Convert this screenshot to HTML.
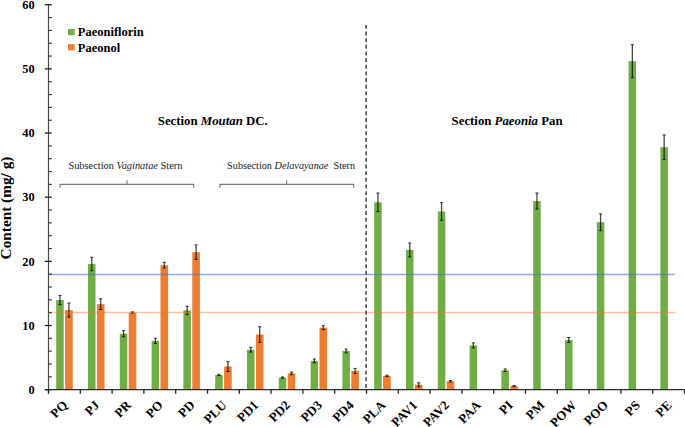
<!DOCTYPE html>
<html><head><meta charset="utf-8"><style>
html,body{margin:0;padding:0;background:#fff;}
body{width:685px;height:427px;overflow:hidden;}
svg{display:block;}
text{font-family:"Liberation Serif",serif;fill:#000;}
.b{font-weight:bold;}
.r{fill:#1c1c1c;}
</style></head><body>
<svg width="685" height="427" viewBox="0 0 685 427">
<rect width="685" height="427" fill="#fff"/>
<rect x="56.20" y="300.03" width="7.50" height="89.62" fill="#70AD47"/>
<rect x="65.10" y="310.10" width="7.60" height="79.55" fill="#ED7D31"/>
<rect x="88.00" y="264.04" width="7.50" height="125.61" fill="#70AD47"/>
<rect x="96.90" y="304.14" width="7.60" height="85.51" fill="#ED7D31"/>
<rect x="119.80" y="333.71" width="7.50" height="55.94" fill="#70AD47"/>
<rect x="128.70" y="312.54" width="7.60" height="77.11" fill="#ED7D31"/>
<rect x="151.60" y="340.90" width="7.50" height="48.75" fill="#70AD47"/>
<rect x="160.50" y="265.20" width="7.60" height="124.45" fill="#ED7D31"/>
<rect x="183.40" y="310.49" width="7.50" height="79.16" fill="#70AD47"/>
<rect x="192.30" y="252.18" width="7.60" height="137.47" fill="#ED7D31"/>
<rect x="215.20" y="375.02" width="7.50" height="14.63" fill="#70AD47"/>
<rect x="224.10" y="366.49" width="7.60" height="23.16" fill="#ED7D31"/>
<rect x="247.00" y="349.75" width="7.50" height="39.90" fill="#70AD47"/>
<rect x="255.90" y="334.55" width="7.60" height="55.10" fill="#ED7D31"/>
<rect x="278.80" y="377.59" width="7.50" height="12.06" fill="#70AD47"/>
<rect x="287.70" y="373.36" width="7.60" height="16.29" fill="#ED7D31"/>
<rect x="310.60" y="360.91" width="7.50" height="28.74" fill="#70AD47"/>
<rect x="319.50" y="327.68" width="7.60" height="61.97" fill="#ED7D31"/>
<rect x="342.40" y="350.90" width="7.50" height="38.75" fill="#70AD47"/>
<rect x="351.30" y="370.98" width="7.60" height="18.67" fill="#ED7D31"/>
<rect x="374.20" y="202.33" width="7.50" height="187.32" fill="#70AD47"/>
<rect x="383.10" y="375.86" width="7.60" height="13.79" fill="#ED7D31"/>
<rect x="406.00" y="249.93" width="7.50" height="139.72" fill="#70AD47"/>
<rect x="414.90" y="384.71" width="7.60" height="4.94" fill="#ED7D31"/>
<rect x="437.80" y="211.51" width="7.50" height="178.14" fill="#70AD47"/>
<rect x="446.70" y="381.31" width="7.60" height="8.34" fill="#ED7D31"/>
<rect x="469.60" y="345.39" width="7.50" height="44.26" fill="#70AD47"/>
<rect x="501.40" y="370.21" width="7.50" height="19.44" fill="#70AD47"/>
<rect x="510.30" y="386.12" width="7.60" height="3.53" fill="#ED7D31"/>
<rect x="533.20" y="201.05" width="7.50" height="188.60" fill="#70AD47"/>
<rect x="565.00" y="340.00" width="7.50" height="49.65" fill="#70AD47"/>
<rect x="596.80" y="222.22" width="7.50" height="167.43" fill="#70AD47"/>
<rect x="628.60" y="61.20" width="7.50" height="328.45" fill="#70AD47"/>
<rect x="660.40" y="147.16" width="7.50" height="242.49" fill="#70AD47"/>
<path d="M59.95 295.41V304.65" stroke="#000" stroke-width="1.3" stroke-opacity="0.72" fill="none"/>
<path d="M58.35 295.41h3.2M58.35 304.65h3.2" stroke="#000" stroke-width="0.9" stroke-opacity="0.85" fill="none"/>
<path d="M68.90 303.05V317.16" stroke="#000" stroke-width="1.3" stroke-opacity="0.72" fill="none"/>
<path d="M67.30 303.05h3.2M67.30 317.16h3.2" stroke="#000" stroke-width="0.9" stroke-opacity="0.85" fill="none"/>
<path d="M91.75 257.31V270.78" stroke="#000" stroke-width="1.3" stroke-opacity="0.72" fill="none"/>
<path d="M90.15 257.31h3.2M90.15 270.78h3.2" stroke="#000" stroke-width="0.9" stroke-opacity="0.85" fill="none"/>
<path d="M100.70 298.75V309.53" stroke="#000" stroke-width="1.3" stroke-opacity="0.72" fill="none"/>
<path d="M99.10 298.75h3.2M99.10 309.53h3.2" stroke="#000" stroke-width="0.9" stroke-opacity="0.85" fill="none"/>
<path d="M123.55 330.63V336.79" stroke="#000" stroke-width="1.3" stroke-opacity="0.72" fill="none"/>
<path d="M121.95 330.63h3.2M121.95 336.79h3.2" stroke="#000" stroke-width="0.9" stroke-opacity="0.85" fill="none"/>
<path d="M132.50 311.90V313.18" stroke="#000" stroke-width="1.3" stroke-opacity="0.72" fill="none"/>
<path d="M130.90 311.90h3.2M130.90 313.18h3.2" stroke="#000" stroke-width="0.9" stroke-opacity="0.85" fill="none"/>
<path d="M155.35 338.33V343.46" stroke="#000" stroke-width="1.3" stroke-opacity="0.72" fill="none"/>
<path d="M153.75 338.33h3.2M153.75 343.46h3.2" stroke="#000" stroke-width="0.9" stroke-opacity="0.85" fill="none"/>
<path d="M164.30 262.38V268.02" stroke="#000" stroke-width="1.3" stroke-opacity="0.72" fill="none"/>
<path d="M162.70 262.38h3.2M162.70 268.02h3.2" stroke="#000" stroke-width="0.9" stroke-opacity="0.85" fill="none"/>
<path d="M187.15 306.32V314.66" stroke="#000" stroke-width="1.3" stroke-opacity="0.72" fill="none"/>
<path d="M185.55 306.32h3.2M185.55 314.66h3.2" stroke="#000" stroke-width="0.9" stroke-opacity="0.85" fill="none"/>
<path d="M196.10 244.93V259.43" stroke="#000" stroke-width="1.3" stroke-opacity="0.72" fill="none"/>
<path d="M194.50 244.93h3.2M194.50 259.43h3.2" stroke="#000" stroke-width="0.9" stroke-opacity="0.85" fill="none"/>
<path d="M218.95 374.38V375.67" stroke="#000" stroke-width="1.3" stroke-opacity="0.72" fill="none"/>
<path d="M217.35 374.38h3.2M217.35 375.67h3.2" stroke="#000" stroke-width="0.9" stroke-opacity="0.85" fill="none"/>
<path d="M227.90 361.42V371.56" stroke="#000" stroke-width="1.3" stroke-opacity="0.72" fill="none"/>
<path d="M226.30 361.42h3.2M226.30 371.56h3.2" stroke="#000" stroke-width="0.9" stroke-opacity="0.85" fill="none"/>
<path d="M250.75 347.38V352.12" stroke="#000" stroke-width="1.3" stroke-opacity="0.72" fill="none"/>
<path d="M249.15 347.38h3.2M249.15 352.12h3.2" stroke="#000" stroke-width="0.9" stroke-opacity="0.85" fill="none"/>
<path d="M259.70 326.72V342.37" stroke="#000" stroke-width="1.3" stroke-opacity="0.72" fill="none"/>
<path d="M258.10 326.72h3.2M258.10 342.37h3.2" stroke="#000" stroke-width="0.9" stroke-opacity="0.85" fill="none"/>
<path d="M282.55 376.95V378.23" stroke="#000" stroke-width="1.3" stroke-opacity="0.72" fill="none"/>
<path d="M280.95 376.95h3.2M280.95 378.23h3.2" stroke="#000" stroke-width="0.9" stroke-opacity="0.85" fill="none"/>
<path d="M291.50 372.07V374.64" stroke="#000" stroke-width="1.3" stroke-opacity="0.72" fill="none"/>
<path d="M289.90 372.07h3.2M289.90 374.64h3.2" stroke="#000" stroke-width="0.9" stroke-opacity="0.85" fill="none"/>
<path d="M314.35 358.99V362.84" stroke="#000" stroke-width="1.3" stroke-opacity="0.72" fill="none"/>
<path d="M312.75 358.99h3.2M312.75 362.84h3.2" stroke="#000" stroke-width="0.9" stroke-opacity="0.85" fill="none"/>
<path d="M323.30 325.76V329.61" stroke="#000" stroke-width="1.3" stroke-opacity="0.72" fill="none"/>
<path d="M321.70 325.76h3.2M321.70 329.61h3.2" stroke="#000" stroke-width="0.9" stroke-opacity="0.85" fill="none"/>
<path d="M346.15 348.98V352.83" stroke="#000" stroke-width="1.3" stroke-opacity="0.72" fill="none"/>
<path d="M344.55 348.98h3.2M344.55 352.83h3.2" stroke="#000" stroke-width="0.9" stroke-opacity="0.85" fill="none"/>
<path d="M355.10 368.42V373.55" stroke="#000" stroke-width="1.3" stroke-opacity="0.72" fill="none"/>
<path d="M353.50 368.42h3.2M353.50 373.55h3.2" stroke="#000" stroke-width="0.9" stroke-opacity="0.85" fill="none"/>
<path d="M377.95 193.03V211.63" stroke="#000" stroke-width="1.3" stroke-opacity="0.72" fill="none"/>
<path d="M376.35 193.03h3.2M376.35 211.63h3.2" stroke="#000" stroke-width="0.9" stroke-opacity="0.85" fill="none"/>
<path d="M386.90 375.22V376.50" stroke="#000" stroke-width="1.3" stroke-opacity="0.72" fill="none"/>
<path d="M385.30 375.22h3.2M385.30 376.50h3.2" stroke="#000" stroke-width="0.9" stroke-opacity="0.85" fill="none"/>
<path d="M409.75 242.94V256.92" stroke="#000" stroke-width="1.3" stroke-opacity="0.72" fill="none"/>
<path d="M408.15 242.94h3.2M408.15 256.92h3.2" stroke="#000" stroke-width="0.9" stroke-opacity="0.85" fill="none"/>
<path d="M418.70 382.79V386.63" stroke="#000" stroke-width="1.3" stroke-opacity="0.72" fill="none"/>
<path d="M417.10 382.79h3.2M417.10 386.63h3.2" stroke="#000" stroke-width="0.9" stroke-opacity="0.85" fill="none"/>
<path d="M441.55 202.65V220.36" stroke="#000" stroke-width="1.3" stroke-opacity="0.72" fill="none"/>
<path d="M439.95 202.65h3.2M439.95 220.36h3.2" stroke="#000" stroke-width="0.9" stroke-opacity="0.85" fill="none"/>
<path d="M450.50 380.54V382.08" stroke="#000" stroke-width="1.3" stroke-opacity="0.72" fill="none"/>
<path d="M448.90 380.54h3.2M448.90 382.08h3.2" stroke="#000" stroke-width="0.9" stroke-opacity="0.85" fill="none"/>
<path d="M473.35 342.82V347.95" stroke="#000" stroke-width="1.3" stroke-opacity="0.72" fill="none"/>
<path d="M471.75 342.82h3.2M471.75 347.95h3.2" stroke="#000" stroke-width="0.9" stroke-opacity="0.85" fill="none"/>
<path d="M505.15 368.93V371.50" stroke="#000" stroke-width="1.3" stroke-opacity="0.72" fill="none"/>
<path d="M503.55 368.93h3.2M503.55 371.50h3.2" stroke="#000" stroke-width="0.9" stroke-opacity="0.85" fill="none"/>
<path d="M514.10 385.61V386.63" stroke="#000" stroke-width="1.3" stroke-opacity="0.72" fill="none"/>
<path d="M512.50 385.61h3.2M512.50 386.63h3.2" stroke="#000" stroke-width="0.9" stroke-opacity="0.85" fill="none"/>
<path d="M536.95 193.03V209.07" stroke="#000" stroke-width="1.3" stroke-opacity="0.72" fill="none"/>
<path d="M535.35 193.03h3.2M535.35 209.07h3.2" stroke="#000" stroke-width="0.9" stroke-opacity="0.85" fill="none"/>
<path d="M568.75 337.50V342.50" stroke="#000" stroke-width="1.3" stroke-opacity="0.72" fill="none"/>
<path d="M567.15 337.50h3.2M567.15 342.50h3.2" stroke="#000" stroke-width="0.9" stroke-opacity="0.85" fill="none"/>
<path d="M600.55 213.88V230.56" stroke="#000" stroke-width="1.3" stroke-opacity="0.72" fill="none"/>
<path d="M598.95 213.88h3.2M598.95 230.56h3.2" stroke="#000" stroke-width="0.9" stroke-opacity="0.85" fill="none"/>
<path d="M632.35 44.65V77.75" stroke="#000" stroke-width="1.3" stroke-opacity="0.72" fill="none"/>
<path d="M630.75 44.65h3.2M630.75 77.75h3.2" stroke="#000" stroke-width="0.9" stroke-opacity="0.85" fill="none"/>
<path d="M664.15 134.91V159.42" stroke="#000" stroke-width="1.3" stroke-opacity="0.72" fill="none"/>
<path d="M662.55 134.91h3.2M662.55 159.42h3.2" stroke="#000" stroke-width="0.9" stroke-opacity="0.85" fill="none"/>
<line x1="48.5" y1="274.5" x2="674.8" y2="274.5" stroke="#4472C4" stroke-width="1.5" stroke-opacity="0.6"/>
<line x1="48.5" y1="312.6" x2="675.4" y2="312.6" stroke="#ED7D31" stroke-width="1.5" stroke-opacity="0.46"/>
<line x1="366.1" y1="24.9" x2="366.1" y2="389.5" stroke="#333" stroke-width="1.4" stroke-dasharray="3.9 2.75"/>
<line x1="48.5" y1="4.2" x2="48.5" y2="393.5" stroke="#484848" stroke-width="1.15"/>
<line x1="44.8" y1="389.65" x2="684.6" y2="389.65" stroke="#2a2a2a" stroke-width="1.25"/>
<line x1="44.8" y1="389.65" x2="51.8" y2="389.65" stroke="#222" stroke-width="1.3"/>
<line x1="48.5" y1="376.82" x2="51.8" y2="376.82" stroke="#333" stroke-width="1.15"/>
<line x1="48.5" y1="363.99" x2="51.8" y2="363.99" stroke="#333" stroke-width="1.15"/>
<line x1="48.5" y1="351.16" x2="51.8" y2="351.16" stroke="#333" stroke-width="1.15"/>
<line x1="48.5" y1="338.33" x2="51.8" y2="338.33" stroke="#333" stroke-width="1.15"/>
<line x1="44.8" y1="325.50" x2="51.8" y2="325.50" stroke="#222" stroke-width="1.3"/>
<line x1="48.5" y1="312.67" x2="51.8" y2="312.67" stroke="#333" stroke-width="1.15"/>
<line x1="48.5" y1="299.84" x2="51.8" y2="299.84" stroke="#333" stroke-width="1.15"/>
<line x1="48.5" y1="287.01" x2="51.8" y2="287.01" stroke="#333" stroke-width="1.15"/>
<line x1="48.5" y1="274.18" x2="51.8" y2="274.18" stroke="#333" stroke-width="1.15"/>
<line x1="44.8" y1="261.35" x2="51.8" y2="261.35" stroke="#222" stroke-width="1.3"/>
<line x1="48.5" y1="248.52" x2="51.8" y2="248.52" stroke="#333" stroke-width="1.15"/>
<line x1="48.5" y1="235.69" x2="51.8" y2="235.69" stroke="#333" stroke-width="1.15"/>
<line x1="48.5" y1="222.86" x2="51.8" y2="222.86" stroke="#333" stroke-width="1.15"/>
<line x1="48.5" y1="210.03" x2="51.8" y2="210.03" stroke="#333" stroke-width="1.15"/>
<line x1="44.8" y1="197.20" x2="51.8" y2="197.20" stroke="#222" stroke-width="1.3"/>
<line x1="48.5" y1="184.37" x2="51.8" y2="184.37" stroke="#333" stroke-width="1.15"/>
<line x1="48.5" y1="171.54" x2="51.8" y2="171.54" stroke="#333" stroke-width="1.15"/>
<line x1="48.5" y1="158.71" x2="51.8" y2="158.71" stroke="#333" stroke-width="1.15"/>
<line x1="48.5" y1="145.88" x2="51.8" y2="145.88" stroke="#333" stroke-width="1.15"/>
<line x1="44.8" y1="133.05" x2="51.8" y2="133.05" stroke="#222" stroke-width="1.3"/>
<line x1="48.5" y1="120.22" x2="51.8" y2="120.22" stroke="#333" stroke-width="1.15"/>
<line x1="48.5" y1="107.39" x2="51.8" y2="107.39" stroke="#333" stroke-width="1.15"/>
<line x1="48.5" y1="94.56" x2="51.8" y2="94.56" stroke="#333" stroke-width="1.15"/>
<line x1="48.5" y1="81.73" x2="51.8" y2="81.73" stroke="#333" stroke-width="1.15"/>
<line x1="44.8" y1="68.90" x2="51.8" y2="68.90" stroke="#222" stroke-width="1.3"/>
<line x1="48.5" y1="56.07" x2="51.8" y2="56.07" stroke="#333" stroke-width="1.15"/>
<line x1="48.5" y1="43.24" x2="51.8" y2="43.24" stroke="#333" stroke-width="1.15"/>
<line x1="48.5" y1="30.41" x2="51.8" y2="30.41" stroke="#333" stroke-width="1.15"/>
<line x1="48.5" y1="17.58" x2="51.8" y2="17.58" stroke="#333" stroke-width="1.15"/>
<line x1="44.8" y1="4.75" x2="51.8" y2="4.75" stroke="#222" stroke-width="1.3"/>
<line x1="48.50" y1="389.65" x2="48.50" y2="393.7" stroke="#222" stroke-width="1.3"/>
<line x1="80.30" y1="389.65" x2="80.30" y2="393.7" stroke="#222" stroke-width="1.3"/>
<line x1="112.10" y1="389.65" x2="112.10" y2="393.7" stroke="#222" stroke-width="1.3"/>
<line x1="143.90" y1="389.65" x2="143.90" y2="393.7" stroke="#222" stroke-width="1.3"/>
<line x1="175.70" y1="389.65" x2="175.70" y2="393.7" stroke="#222" stroke-width="1.3"/>
<line x1="207.50" y1="389.65" x2="207.50" y2="393.7" stroke="#222" stroke-width="1.3"/>
<line x1="239.30" y1="389.65" x2="239.30" y2="393.7" stroke="#222" stroke-width="1.3"/>
<line x1="271.10" y1="389.65" x2="271.10" y2="393.7" stroke="#222" stroke-width="1.3"/>
<line x1="302.90" y1="389.65" x2="302.90" y2="393.7" stroke="#222" stroke-width="1.3"/>
<line x1="334.70" y1="389.65" x2="334.70" y2="393.7" stroke="#222" stroke-width="1.3"/>
<line x1="366.50" y1="389.65" x2="366.50" y2="393.7" stroke="#222" stroke-width="1.3"/>
<line x1="398.30" y1="389.65" x2="398.30" y2="393.7" stroke="#222" stroke-width="1.3"/>
<line x1="430.10" y1="389.65" x2="430.10" y2="393.7" stroke="#222" stroke-width="1.3"/>
<line x1="461.90" y1="389.65" x2="461.90" y2="393.7" stroke="#222" stroke-width="1.3"/>
<line x1="493.70" y1="389.65" x2="493.70" y2="393.7" stroke="#222" stroke-width="1.3"/>
<line x1="525.50" y1="389.65" x2="525.50" y2="393.7" stroke="#222" stroke-width="1.3"/>
<line x1="557.30" y1="389.65" x2="557.30" y2="393.7" stroke="#222" stroke-width="1.3"/>
<line x1="589.10" y1="389.65" x2="589.10" y2="393.7" stroke="#222" stroke-width="1.3"/>
<line x1="620.90" y1="389.65" x2="620.90" y2="393.7" stroke="#222" stroke-width="1.3"/>
<line x1="652.70" y1="389.65" x2="652.70" y2="393.7" stroke="#222" stroke-width="1.3"/>
<line x1="684.50" y1="389.65" x2="684.50" y2="393.7" stroke="#222" stroke-width="1.3"/>
<text transform="translate(34.6 393.80) scale(0.94 1)" text-anchor="end" class="b" font-size="13.2">0</text>
<text transform="translate(34.6 329.65) scale(0.94 1)" text-anchor="end" class="b" font-size="13.2">10</text>
<text transform="translate(34.6 265.50) scale(0.94 1)" text-anchor="end" class="b" font-size="13.2">20</text>
<text transform="translate(34.6 201.35) scale(0.94 1)" text-anchor="end" class="b" font-size="13.2">30</text>
<text transform="translate(34.6 137.20) scale(0.94 1)" text-anchor="end" class="b" font-size="13.2">40</text>
<text transform="translate(34.6 73.05) scale(0.94 1)" text-anchor="end" class="b" font-size="13.2">50</text>
<text transform="translate(34.6 8.90) scale(0.94 1)" text-anchor="end" class="b" font-size="13.2">60</text>
<text transform="translate(61.90 399.5) rotate(-45)" text-anchor="end" class="b" font-size="13" dy="0.7em">PQ</text>
<text transform="translate(93.70 399.5) rotate(-45)" text-anchor="end" class="b" font-size="13" dy="0.7em">PJ</text>
<text transform="translate(125.50 399.5) rotate(-45)" text-anchor="end" class="b" font-size="13" dy="0.7em">PR</text>
<text transform="translate(157.30 399.5) rotate(-45)" text-anchor="end" class="b" font-size="13" dy="0.7em">PO</text>
<text transform="translate(189.10 399.5) rotate(-45)" text-anchor="end" class="b" font-size="13" dy="0.7em">PD</text>
<text transform="translate(220.90 399.5) rotate(-45)" text-anchor="end" class="b" font-size="13" dy="0.7em">PLU</text>
<text transform="translate(252.70 399.5) rotate(-45)" text-anchor="end" class="b" font-size="13" dy="0.7em">PD1</text>
<text transform="translate(284.50 399.5) rotate(-45)" text-anchor="end" class="b" font-size="13" dy="0.7em">PD2</text>
<text transform="translate(316.30 399.5) rotate(-45)" text-anchor="end" class="b" font-size="13" dy="0.7em">PD3</text>
<text transform="translate(348.10 399.5) rotate(-45)" text-anchor="end" class="b" font-size="13" dy="0.7em">PD4</text>
<text transform="translate(379.90 399.5) rotate(-45)" text-anchor="end" class="b" font-size="13" dy="0.7em">PLA</text>
<text transform="translate(411.70 399.5) rotate(-45)" text-anchor="end" class="b" font-size="13" dy="0.7em">PAV1</text>
<text transform="translate(443.50 399.5) rotate(-45)" text-anchor="end" class="b" font-size="13" dy="0.7em">PAV2</text>
<text transform="translate(475.30 399.5) rotate(-45)" text-anchor="end" class="b" font-size="13" dy="0.7em">PAA</text>
<text transform="translate(507.10 399.5) rotate(-45)" text-anchor="end" class="b" font-size="13" dy="0.7em">PI</text>
<text transform="translate(538.90 399.5) rotate(-45)" text-anchor="end" class="b" font-size="13" dy="0.7em">PM</text>
<text transform="translate(570.70 399.5) rotate(-45)" text-anchor="end" class="b" font-size="13" dy="0.7em">POW</text>
<text transform="translate(602.50 399.5) rotate(-45)" text-anchor="end" class="b" font-size="13" dy="0.7em">POO</text>
<text transform="translate(634.30 399.5) rotate(-45)" text-anchor="end" class="b" font-size="13" dy="0.7em">PS</text>
<text transform="translate(666.10 399.5) rotate(-45)" text-anchor="end" class="b" font-size="13" dy="0.7em">PE</text>
<text transform="translate(11 208) rotate(-90)" text-anchor="middle" class="b" font-size="15.3">Content (mg/ g)</text>
<rect x="68" y="29" width="6.6" height="6.2" fill="#70AD47"/>
<rect x="68" y="44.2" width="6.6" height="6.2" fill="#ED7D31"/>
<text x="77.8" y="36" class="b" font-size="12.5">Paeoniflorin</text>
<text x="77.8" y="51.6" class="b" font-size="12.5">Paeonol</text>
<text x="157.8" y="125.4" class="b" font-size="12.8">Section <tspan font-style="italic">Moutan</tspan> DC.</text>
<text x="451.6" y="125.4" class="b" font-size="12.8">Section <tspan font-style="italic">Paeonia</tspan> Pan</text>
<text x="68.4" y="169.3" class="r" font-size="10.7" textLength="114" lengthAdjust="spacingAndGlyphs">Subsection <tspan font-style="italic">Vaginatae</tspan> Stern</text>
<text x="227.1" y="169.3" class="r" font-size="10.6" textLength="128" lengthAdjust="spacingAndGlyphs" xml:space="preserve">Subsection <tspan font-style="italic">Delavayanae</tspan>  Stern</text>
<path d="M60.1 188.1V184.4H193.7V188.1M127 184.4V180.2" stroke="#7a7a7a" stroke-width="1.1" fill="none"/>
<path d="M219.9 188.1V184.4H353.7V188.1M286.6 184.4V180.2" stroke="#7a7a7a" stroke-width="1.1" fill="none"/>
</svg>
</body></html>
